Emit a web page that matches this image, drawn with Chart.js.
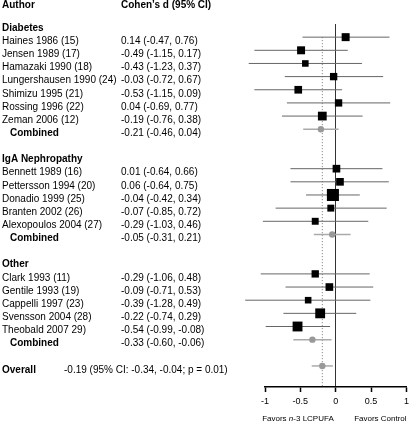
<!DOCTYPE html>
<html>
<head>
<meta charset="utf-8">
<script src="https://cdn.jsdelivr.net/npm/chart.js@4.4.1/dist/chart.umd.min.js"></script>
<style>
  body { margin: 0; background: #fff; }
  #wrap { width: 415px; height: 424px; }
</style>
</head>
<body>
<div id="wrap"><canvas id="forest" width="415" height="424"></canvas></div>
<script>
const groupNames = ['Diabetes', 'IgA Nephropathy', 'Other'];

const studies = [
  'Haines 1986 (15)', 'Jensen 1989 (17)', 'Hamazaki 1990 (18)', 'Lungershausen 1990 (24)',
  'Shimizu 1995 (21)', 'Rossing 1996 (22)', 'Zeman 2006 (12)',
  'Bennett 1989 (16)', 'Pettersson 1994 (20)', 'Donadio 1999 (25)', 'Branten 2002 (26)',
  'Alexopoulos 2004 (27)',
  'Clark 1993 (11)', 'Gentile 1993 (19)', 'Cappelli 1997 (23)', 'Svensson 2004 (28)',
  'Theobald 2007 29)'
];
const studyGroup = [0, 0, 0, 0, 0, 0, 0, 1, 1, 1, 1, 1, 2, 2, 2, 2, 2];
const studyEst  = [0.14, -0.49, -0.43, -0.03, -0.53, 0.04, -0.19, 0.01, 0.06, -0.04, -0.07, -0.29, -0.29, -0.09, -0.39, -0.22, -0.54];
const studyLow  = [-0.47, -1.15, -1.23, -0.72, -1.15, -0.69, -0.76, -0.64, -0.64, -0.42, -0.85, -1.03, -1.06, -0.71, -1.28, -0.74, -0.99];
const studyHigh = [0.76, 0.17, 0.37, 0.67, 0.09, 0.77, 0.38, 0.66, 0.75, 0.34, 0.72, 0.46, 0.48, 0.53, 0.49, 0.29, -0.08];
// relative study weight (square area)
const studyWeight = [5.3, 5.3, 3.6, 4.5, 4.9, 4.5, 6.4, 4.9, 4.9, 12.1, 4.0, 4.0, 4.5, 4.9, 3.6, 8.1, 8.1];

const combinedEst  = [-0.21, -0.05, -0.33];
const combinedLow  = [-0.46, -0.31, -0.60];
const combinedHigh = [0.04, 0.21, -0.06];

const overallEst = -0.19;
const overallLow = -0.34;
const overallHigh = -0.04;
const overallP = 0.01;

const xTicks = [-1, -0.5, 0, 0.5, 1];

const FONT = '"Liberation Sans", Arial, Helvetica, sans-serif';
const f2 = v => v.toFixed(2);
const ciText = (e, lo, hi) => `${f2(e)} (${f2(lo)}, ${f2(hi)})`;

// lay the rows out: group label, studies, combined, blank
const rows = [];
const studyRow = [];
const combinedRow = [];
let r = 0;
groupNames.forEach((g, gi) => {
  rows.push({ kind: 'group', label: g, row: r++ });
  studies.forEach((s, i) => {
    if (studyGroup[i] !== gi) return;
    studyRow[i] = r;
    rows.push({ kind: 'study', label: s, text: ciText(studyEst[i], studyLow[i], studyHigh[i]), row: r++ });
  });
  combinedRow[gi] = r;
  rows.push({ kind: 'combined', label: 'Combined', text: ciText(combinedEst[gi], combinedLow[gi], combinedHigh[gi]), row: r });
  r += 2;
});
const overallRow = r;
const yMax = overallRow + 1.6;

const datasets = [];

// squares
datasets.push({
  data: studies.map((s, i) => ({ x: studyEst[i], y: studyRow[i] })),
  pointStyle: 'rect',
  pointRadius: ctx => Math.sqrt(studyWeight[ctx.dataIndex] * 12) / Math.SQRT2,
  backgroundColor: '#000',
  borderWidth: 0,
  order: 0,
  clip: false
});

// pooled markers
datasets.push({
  data: combinedEst.map((e, gi) => ({ x: e, y: combinedRow[gi] })).concat([{ x: overallEst, y: overallRow }]),
  pointStyle: 'circle',
  pointRadius: 3.2,
  backgroundColor: '#999',
  borderWidth: 0,
  order: 0,
  clip: false
});

// study CIs
studies.forEach((s, i) => {
  datasets.push({
    data: [{ x: studyLow[i], y: studyRow[i] }, { x: studyHigh[i], y: studyRow[i] }],
    showLine: true,
    borderColor: '#666',
    borderWidth: 1,
    pointRadius: 0,
    order: 2,
    clip: false
  });
});

// pooled CIs
combinedEst.forEach((e, gi) => {
  datasets.push({
    data: [{ x: combinedLow[gi], y: combinedRow[gi] }, { x: combinedHigh[gi], y: combinedRow[gi] }],
    showLine: true,
    borderColor: '#aaa',
    borderWidth: 1.5,
    pointRadius: 0,
    order: 2,
    clip: false
  });
});
datasets.push({
  data: [{ x: overallLow, y: overallRow }, { x: overallHigh, y: overallRow }],
  showLine: true,
  borderColor: '#aaa',
  borderWidth: 1.5,
  pointRadius: 0,
  order: 2,
  clip: false
});

// overall estimate reference line
datasets.push({
  data: [{ x: overallEst, y: 1 }, { x: overallEst, y: yMax }],
  showLine: true,
  borderColor: '#777',
  borderWidth: 1,
  borderDash: [1, 2],
  pointRadius: 0,
  order: 3
});

const textColumns = {
  id: 'textColumns',
  afterDraw(chart) {
    const { ctx, scales: { x, y } } = chart;
    const at = v => y.getPixelForValue(v) + 4;
    ctx.save();
    ctx.fillStyle = '#000';
    ctx.textBaseline = 'middle';
    ctx.textAlign = 'left';

    ctx.font = `bold 10px ${FONT}`;
    ctx.fillText('Author', 2, at(-1.75));
    ctx.fillText('Cohen\u2019s d (95% CI)', 121, at(-1.75));

    rows.forEach(row => {
      const ty = at(row.row);
      if (row.kind === 'group') {
        ctx.font = `bold 10px ${FONT}`;
        ctx.fillText(row.label, 2, ty);
      } else if (row.kind === 'combined') {
        ctx.font = `bold 10px ${FONT}`;
        ctx.fillText(row.label, 10, ty);
        ctx.font = `10px ${FONT}`;
        ctx.fillText(row.text, 121, ty);
      } else {
        ctx.font = `10px ${FONT}`;
        ctx.fillText(row.label, 2, ty);
        ctx.fillText(row.text, 121, ty);
      }
    });

    ctx.font = `bold 10px ${FONT}`;
    ctx.fillText('Overall', 2, at(overallRow));
    ctx.font = `10px ${FONT}`;
    ctx.fillText(`${f2(overallEst)} (95% CI: ${f2(overallLow)}, ${f2(overallHigh)}; p = ${f2(overallP)})`, 64, at(overallRow));

    // axis captions
    const cy = 419;
    let cx = x.getPixelForValue(-1.04);
    ctx.font = `8px ${FONT}`;
    ctx.fillText('Favors ', cx, cy);
    cx += ctx.measureText('Favors ').width;
    ctx.font = `italic 8px ${FONT}`;
    ctx.fillText('n', cx, cy);
    cx += ctx.measureText('n').width;
    ctx.font = `8px ${FONT}`;
    ctx.fillText('-3 LCPUFA', cx, cy);
    ctx.fillText('Favors Control', x.getPixelForValue(0.26), cy);
    ctx.restore();
  }
};

new Chart(document.getElementById('forest'), {
  type: 'scatter',
  data: { datasets },
  options: {
    responsive: false,
    animation: false,
    devicePixelRatio: 1,
    layout: { padding: { top: 24, left: 265, right: 6, bottom: 0 } },
    plugins: { legend: { display: false }, tooltip: { enabled: false } },
    scales: {
      x: {
        type: 'linear',
        min: -1,
        max: 1,
        afterBuildTicks: s => { s.ticks = xTicks.map(v => ({ value: v })); },
        afterFit: s => { s.height = 37; },
        ticks: {
          color: '#000',
          padding: 4,
          font: { family: FONT, size: 9 },
          callback: v => String(v)
        },
        grid: {
          drawOnChartArea: true,
          color: ctx => (ctx.tick && ctx.tick.value === 0 ? '#333' : 'rgba(0,0,0,0)'),
          tickColor: '#000',
          tickLength: 5,
          tickWidth: 1.5,
          lineWidth: 1
        },
        border: { display: true, color: '#000', width: 1.5 }
      },
      y: {
        type: 'linear',
        reverse: true,
        min: 0,
        max: yMax,
        display: false
      }
    }
  },
  plugins: [textColumns]
});
</script>
</body>
</html>
